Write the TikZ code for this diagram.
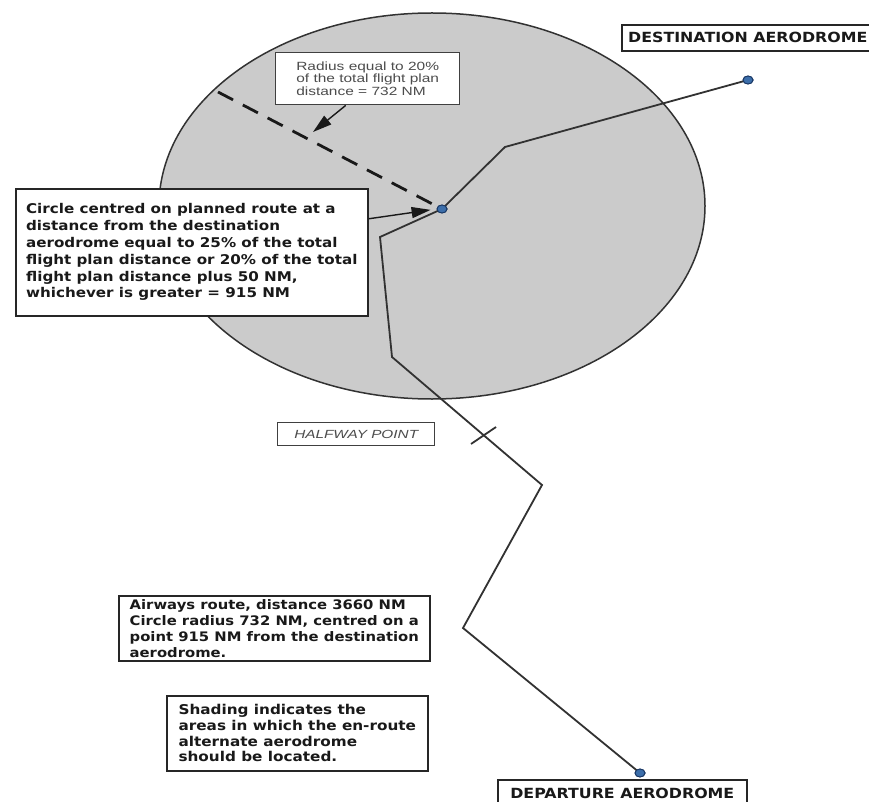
\documentclass[tikz,border=0pt]{standalone}
\usepackage{fontspec}
\setmainfont{Liberation Sans}
\newfontfamily\notefont[FakeStretch=1.13]{DejaVu Sans}
\newfontfamily\thinfont[FakeStretch=1.3]{Liberation Sans}
\usetikzlibrary{shapes.geometric,arrows.meta,calc}
\definecolor{shade}{RGB}{203,203,203}
\definecolor{ink}{RGB}{50,50,50}
\definecolor{dotblue}{RGB}{60,110,170}
\definecolor{dotedge}{RGB}{25,55,100}
\tikzset{
    route/.style={draw=ink, line width=1.8pt},
    area/.style={fill=shade, draw=ink, line width=1.5pt},
    radiusline/.style={draw=black!90, line width=2.8pt, dash pattern=on 17pt off 11pt},
    pointer/.style={draw=black!90, line width=1.4pt, -{Triangle[length=19pt,width=11pt]}},
    aero/.style={ellipse, draw=dotedge, fill=dotblue, line width=0.9pt, minimum width=10pt, minimum height=8pt, inner sep=0pt},
    note/.style={draw=black!85, fill=white, line width=1.6pt, align=left, text=black!90, font=\notefont\bfseries\fontsize{13.4}{16.8}\selectfont},
    thinnote/.style={draw=black!75, fill=white, line width=1.4pt, align=left, text=black!70, font=\thinfont\fontsize{11.9}{12.6}\selectfont},
    place/.style={draw=black!85, fill=white, line width=1.6pt, inner sep=0pt, text=black!90, font=\notefont\bfseries\fontsize{14}{16}\selectfont},
}

\begin{document}
\begin{tikzpicture}[x=1pt, y=-1pt]
    \useasboundingbox (0,0) rectangle (869,802);
    \fill[white] (0,0) rectangle (869,802);

    % shaded circle round the route
    \draw[area] (432,206) ellipse [x radius=273, y radius=193];

    % aerodromes and route turning points
    \node[aero] (dest) at (748,80) {};
    \node[aero] (mid) at (442,209) {};
    \node[aero] (dep) at (640,773) {};
    \coordinate (w1) at (505,147);
    \coordinate (w2) at (380,237);
    \coordinate (w3) at (392,357);
    \coordinate (w4) at (542,485);
    \coordinate (w5) at (463,628);
    \coordinate (rim) at (218,92);
    \coordinate (t1) at (471,444);
    \coordinate (t2) at (496,427);
    \coordinate (radtip) at (313,132);

    % radius
    \draw[radiusline] (rim) -- (mid);

    % planned route
    \draw[route] (dest.center) -- (w1) -- (mid.center) -- (w2) -- (w3) -- (w4) -- (w5) -- (dep.center);
    \draw[route] (t1) -- (t2);
    \node[aero] at (dest) {};
    \node[aero] at (mid) {};
    \node[aero] at (dep) {};

    % notes
    \node[thinnote, anchor=north west, minimum width=184pt, minimum height=52pt] (radbox) at (275,52)
        {Radius equal to 20\%\\of the total flight plan\\distance = 732 NM};
    \node[note, anchor=north west, minimum width=352pt, minimum height=127pt] (centrebox) at (15,188)
        {Circle centred on planned route at a\\distance from the destination\\aerodrome equal to 25\% of the total\\flight plan distance or 20\% of the total\\flight plan distance plus 50 NM,\\whichever is greater = 915 NM};
    \node[thinnote, font=\thinfont\itshape\fontsize{11.8}{13}\selectfont, anchor=north west, minimum width=157pt, minimum height=23pt, inner sep=0pt] (halfbox) at (277,422)
        {HALFWAY POINT};
    \node[note, font=\notefont\bfseries\fontsize{13.1}{16}\selectfont, anchor=north west, minimum width=311pt, minimum height=65pt] (routebox) at (118,595)
        {Airways route, distance 3660 NM\\Circle radius 732 NM, centred on a\\point 915 NM from the destination\\aerodrome.};
    \node[note, font=\notefont\bfseries\fontsize{13.5}{15.7}\selectfont, anchor=north west, minimum width=261pt, minimum height=75pt] (shadebox) at (166,695)
        {Shading indicates the\\areas in which the en-route\\alternate aerodrome\\should be located.};
    \node[place, anchor=north west, minimum width=252pt, minimum height=26pt] (destbox) at (621,24) {DESTINATION AERODROME};
    \node[place, anchor=north west, minimum width=249pt, minimum height=28pt] (depbox) at (497,779) {DEPARTURE AERODROME};

    % pointers
    \draw[pointer] ([xshift=-22pt]radbox.south) -- (radtip);
    \draw[pointer, shorten >=6pt] ([yshift=33.5pt]centrebox.east) -- (mid.west);
\end{tikzpicture}
\end{document}
